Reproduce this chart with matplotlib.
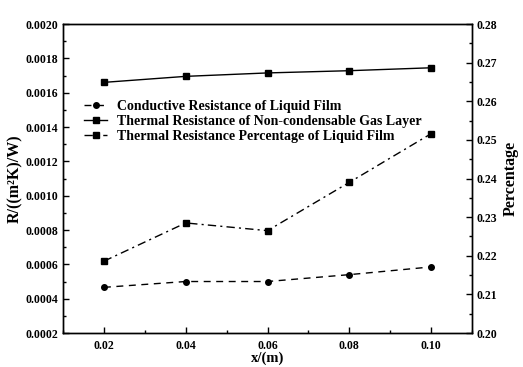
import matplotlib
matplotlib.use('Agg')
from matplotlib import pyplot as plt
from matplotlib.ticker import MultipleLocator, FormatStrFormatter

plt.rcParams['font.family'] = ['Liberation Serif', 'DejaVu Serif']
plt.rcParams['font.weight'] = 'bold'

# x position along the tube (m)
x = [0.02, 0.04, 0.06, 0.08, 0.10]
# resistances, (m2K)/W
r_film = [0.000466, 0.000500, 0.000500, 0.000540, 0.000585]
r_gas = [0.001660, 0.001695, 0.001715, 0.001728, 0.001745]
# share of the liquid film in total resistance
pct_film = [0.2186, 0.2285, 0.2265, 0.2390, 0.2516]

fig = plt.figure(figsize=(5.23, 3.67), dpi=100)
ax = fig.add_axes([0.1205, 0.0926, 0.782, 0.842])
ax2 = ax.twinx()

l1, = ax.plot(x, r_film, color='black', linestyle=(0, (5, 4)), lw=1.0,
              marker='o', ms=4, label='Conductive Resistance of Liquid Film')
l2, = ax.plot(x, r_gas, color='black', linestyle='-', lw=1.0,
              marker='s', ms=4, label='Thermal Resistance of Non-condensable Gas Layer')
l3, = ax2.plot(x, pct_film, color='black', linestyle=(0, (6, 3, 1.5, 3)), lw=1.0,
               marker='s', ms=4, label='Thermal Resistance Percentage of Liquid Film')

ax.set_xlim(0.01, 0.11)
ax.set_ylim(0.0002, 0.0020)
ax2.set_ylim(0.20, 0.28)

ax.xaxis.set_major_locator(MultipleLocator(0.02))
ax.xaxis.set_minor_locator(MultipleLocator(0.01))
ax.xaxis.set_major_formatter(FormatStrFormatter('%.2f'))
ax.yaxis.set_major_locator(MultipleLocator(0.0002))
ax.yaxis.set_minor_locator(MultipleLocator(0.0001))
ax.yaxis.set_major_formatter(FormatStrFormatter('%.4f'))
ax2.yaxis.set_major_locator(MultipleLocator(0.01))
ax2.yaxis.set_minor_locator(MultipleLocator(0.005))
ax2.yaxis.set_major_formatter(FormatStrFormatter('%.2f'))

for a in (ax, ax2):
    a.tick_params(which='major', direction='in', length=4, width=1, labelsize=8.5)
    a.tick_params(which='minor', direction='in', length=2, width=1)
    for s in a.spines.values():
        s.set_linewidth(1.0)
ax.tick_params(axis='x', pad=5)

ax.set_xlabel('x/(m)', fontsize=10.5, fontweight='bold', labelpad=0)
ax.set_ylabel('R/((m²K)/W)', fontsize=11.5, fontweight='bold', labelpad=2)
ax2.set_ylabel('Percentage', fontsize=11.5, fontweight='bold', labelpad=4)

ax.legend(handles=[l1, l2, l3], loc='upper left', bbox_to_anchor=(0.02, 0.795),
          frameon=False, handlelength=1.7, handletextpad=0.7,
          labelspacing=0.15, prop={'weight': 'bold', 'size': 10})

plt.savefig('out.png', dpi=100)
